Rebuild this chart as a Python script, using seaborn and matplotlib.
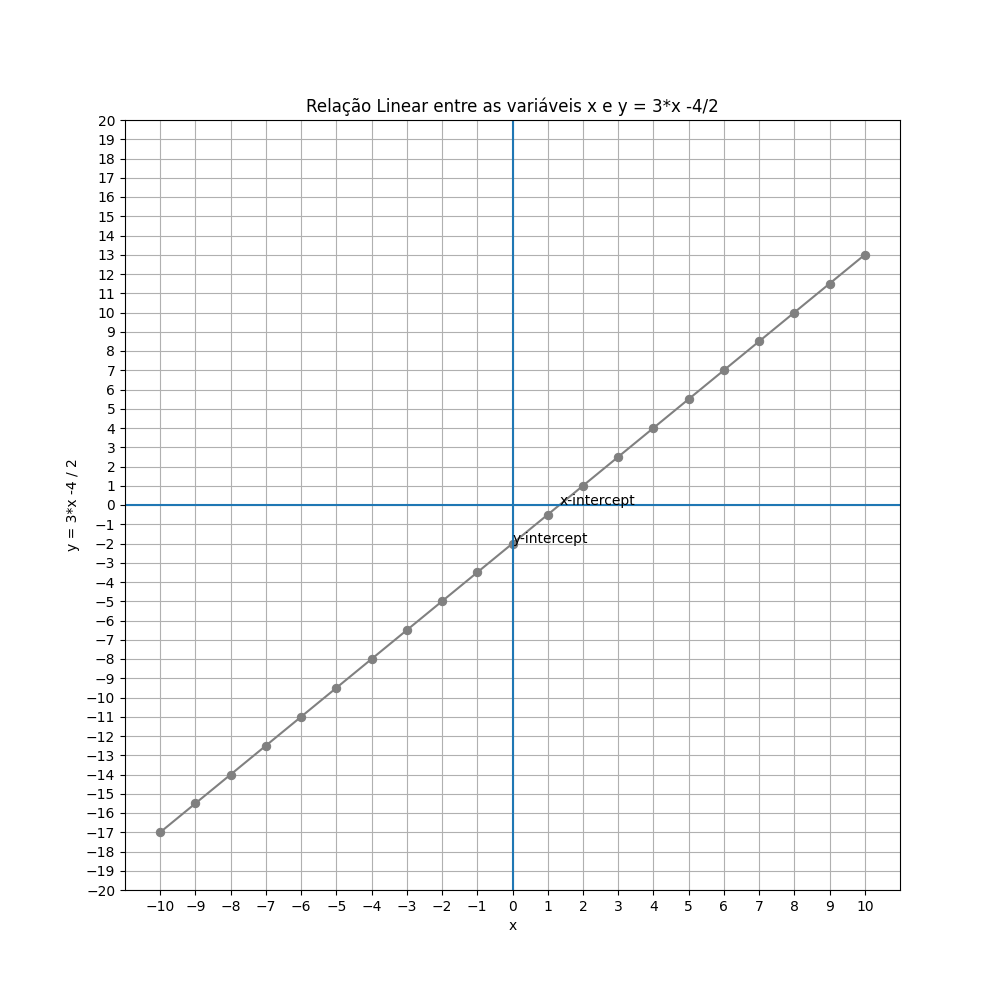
#!/usr/bin/env python3

import numpy as np
import pandas as pd
import matplotlib
matplotlib.use("Agg")
import matplotlib.pyplot as plt
import seaborn as sns

# data: y = (3*x - 4) / 2 read at integer x
x_values = [-10, -9, -8, -7, -6, -5, -4, -3, -2, -1, 0, 1, 2, 3, 4, 5, 6, 7, 8, 9, 10]
y_values = [-17, -15.5, -14, -12.5, -11, -9.5, -8, -6.5, -5, -3.5, -2,
            -0.5, 1, 2.5, 4, 5.5, 7, 8.5, 10, 11.5, 13]
x_ticks = list(range(-10, 11))
y_ticks = list(range(-20, 21))
x_intercept = (4 / 3, 0)
y_intercept = (0, -2)

df = pd.DataFrame({'x': x_values, 'y': y_values})

fig, ax = plt.subplots(figsize=(10, 10), dpi=100)
sns.lineplot(data=df, x='x', y='y', color='grey', marker='o',
             markersize=6, markeredgecolor='grey', ax=ax)

ax.axhline(0)
ax.axvline(0)

ax.annotate('x-intercept', xy=x_intercept)
ax.annotate('y-intercept', xy=y_intercept)

ax.set_xlim(-11, 11)
ax.set_ylim(-20, 20)
ax.set_xticks(x_ticks)
ax.set_yticks(y_ticks)
ax.grid(True)

ax.set_title('Relação Linear entre as variáveis x e y = 3*x -4/2')
ax.set_xlabel('x')
ax.set_ylabel('y = 3*x -4 / 2')

plt.savefig('out.png')
plt.close()
